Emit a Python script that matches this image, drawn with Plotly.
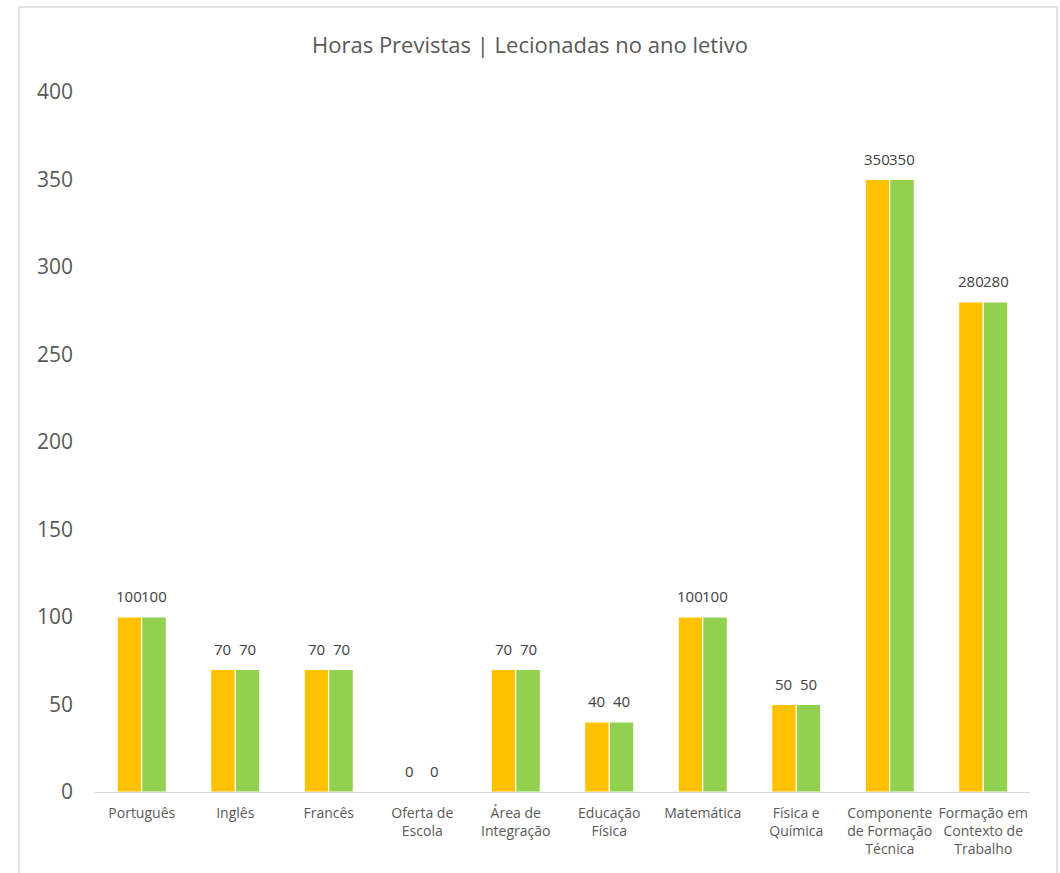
import plotly.graph_objects as go

categories = ["Português", "Inglês", "Francês", "Oferta de<br>Escola", "Área de<br>Integração",
              "Educação<br>Física", "Matemática", "Física e<br>Química",
              "Componente<br>de Formação<br>Técnica", "Formação em<br>Contexto de<br>Trabalho"]
previstas = [100, 70, 70, 0, 70, 40, 100, 50, 350, 280]
lecionadas = [100, 70, 70, 0, 70, 40, 100, 50, 350, 280]
y_ticks = [0, 50, 100, 150, 200, 250, 300, 350, 400]

FONT = "Open Sans"
TXT = "#595959"
BAR_HALF = 12.4  # half bar width in px, for label placement

fig = go.Figure()
fig.add_trace(go.Bar(x=categories, y=previstas, name="Previstas",
                     marker=dict(color="#FFC000", line=dict(color="white", width=1))))
fig.add_trace(go.Bar(x=categories, y=lecionadas, name="Lecionadas",
                     marker=dict(color="#92D050", line=dict(color="white", width=1))))

annotations = []
for series, shift in ((previstas, -BAR_HALF), (lecionadas, BAR_HALF)):
    for c, v in zip(categories, series):
        annotations.append(dict(x=c, y=v, xref="x", yref="y", text=str(v), showarrow=False,
                                xshift=shift, yshift=21, yanchor="middle", xanchor="center",
                                font=dict(size=15, color="#404040", family=FONT)))

L, R, T, B = 95, 1030, 92, 792
W, H = 1060, 873
pw, ph = R - L, B - T
fig.update_layout(
    width=W, height=H,
    margin=dict(l=L, r=W - R, t=T, b=H - B, autoexpand=False),
    paper_bgcolor="white", plot_bgcolor="white",
    showlegend=False,
    barmode="group", bargap=0.476, bargroupgap=0,
    font=dict(family=FONT, color=TXT),
    title=dict(text="Horas Previstas | Lecionadas no ano letivo", x=0.5, xanchor="center",
               y=1 - 45 / H, yanchor="middle", font=dict(size=22, color=TXT, family=FONT)),
    xaxis=dict(showline=True, linecolor="#D9D9D9", linewidth=1, ticks="", showgrid=False,
               tickfont=dict(size=14, color=TXT, family=FONT), automargin=False,
               ticklabelstandoff=8),
    yaxis=dict(range=[0, 400], tickvals=y_ticks, showgrid=False, zeroline=False, showline=False,
               ticks="", tickfont=dict(size=21, color=TXT, family=FONT), automargin=False,
               ticklabelstandoff=21),
    annotations=annotations,
    shapes=[dict(type="rect", xref="paper", yref="paper",
                 x0=(19 - L) / pw, x1=(1057 - L) / pw, y0=(B - 900) / ph, y1=(B - 7) / ph,
                 line=dict(color="#D9D9D9", width=1.5), fillcolor="rgba(0,0,0,0)", layer="below")],
)
fig.write_html("out.html", config={"displayModeBar": False},
               post_script="document.body.style.margin='0px';")
